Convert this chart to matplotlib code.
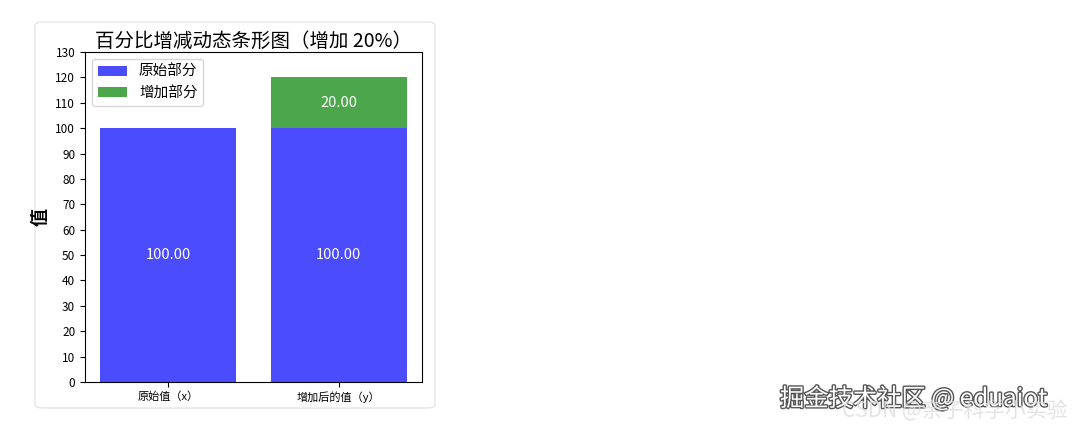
import matplotlib.pyplot as plt
import matplotlib.patheffects as pe
from matplotlib.patches import FancyBboxPatch

plt.rcParams['font.family'] = ['Noto Sans CJK SC', 'DejaVu Sans']

categories = ['原始值（x）', '增加后的值（y）']
original = [100, 100]
increase = [0, 20]
percent = 20

W, H = 1072, 429
fig = plt.figure(figsize=(W / 100, H / 100), dpi=100)

# rounded card behind the chart
card = FancyBboxPatch((35 / W, (H - 408) / H), 400 / W, 386 / H,
                      boxstyle='round,pad=0,rounding_size=0.008',
                      transform=fig.transFigure, facecolor='white',
                      edgecolor='#e6e6e6', linewidth=1, zorder=-1)
fig.patches.append(card)

ax = fig.add_axes([85 / W, (H - 382) / H, (422 - 85) / W, (382 - 52) / H])

x = range(len(categories))
ax.bar(x, original, color='blue', alpha=0.7, label='原始部分')
ax.bar(x, increase, bottom=original, color='green', alpha=0.7, label='增加部分')

for i in x:
    ax.text(i, original[i] / 2, f'{original[i]:.2f}', ha='center', va='center',
            color='white', fontsize=10.5)
    if increase[i] > 0:
        ax.text(i, original[i] + increase[i] / 2, f'{increase[i]:.2f}',
                ha='center', va='center', color='white', fontsize=10.5)

ax.set_ylim(0, 130)
ax.set_yticks(range(0, 131, 10))
ax.set_xticks(list(x))
ax.set_xticklabels(categories, fontsize=8)
ax.tick_params(axis='y', labelsize=8.5)
ax.set_ylabel('值', fontsize=13, fontweight='bold')
ax.set_title(f'百分比增减动态条形图（增加 {percent}%）', fontsize=14, pad=3)
ax.legend(loc='upper left', fontsize=10.5)

# watermarks
fig.text(780 / W, 1 - 399 / H, '掘金技术社区 @ eduaiot', fontsize=17.5,
         color='white', va='center',
         path_effects=[pe.withStroke(linewidth=2, foreground='#555555')])
fig.text(842 / W, 1 - 411 / H, 'CSDN @亲子科学小实验', fontsize=15,
         color='#dddddd', va='center', alpha=0.8)

fig.savefig('out.png', dpi=100)
